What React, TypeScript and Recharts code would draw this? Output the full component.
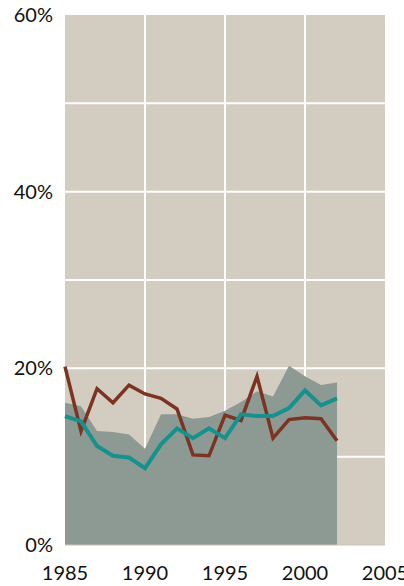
import { ComposedChart, Area, Line, XAxis, YAxis, CartesianGrid } from 'recharts';

// years on the x axis
const years = [1985, 1986, 1987, 1988, 1989, 1990, 1991, 1992, 1993, 1994, 1995, 1996, 1997, 1998, 1999, 2000, 2001, 2002];
// grey band (%)
const bandValues = [16.1, 15.7, 12.9, 12.8, 12.5, 10.9, 14.8, 14.8, 14.3, 14.5, 15.2, 16.2, 17.4, 16.8, 20.3, 19.1, 18.1, 18.4];
// brown line (%)
const brownValues = [20.2, 12.9, 17.7, 16.1, 18.1, 17.1, 16.6, 15.4, 10.2, 10.1, 14.7, 14.1, 19.1, 12.1, 14.2, 14.4, 14.3, 11.8];
// teal line (%)
const tealValues = [14.6, 14.0, 11.2, 10.1, 9.9, 8.7, 11.4, 13.2, 12.1, 13.2, 12.1, 14.8, 14.6, 14.6, 15.5, 17.5, 15.8, 16.6];

const xTicks = [1985, 1990, 1995, 2000, 2005];
const yTicks = [0, 20, 40, 60];
const hGrid = [10, 20, 30, 40, 50];
const vGrid = [1990, 1995, 2000];

const data = years.map((year, i) => ({
    year,
    band: bandValues[i],
    brown: brownValues[i],
    teal: tealValues[i],
}));

const tickStyle = { fill: '#111', fontSize: 20, fontFamily: 'Lato, sans-serif' };

export default function App() {
    return (
        <div style={{ position: 'absolute', left: 0, top: 0, width: 404, height: 586, background: '#fff' }}>
            <ComposedChart width={404} height={586} data={data} margin={{ top: 15, right: 19, bottom: 0, left: 0 }}>
                <CartesianGrid
                    fill="#d3ccc1"
                    stroke="#ffffff"
                    strokeWidth={2}
                    horizontalValues={hGrid}
                    verticalValues={vGrid}
                />
                <XAxis
                    dataKey="year"
                    type="number"
                    domain={[1985, 2005]}
                    ticks={xTicks}
                    height={41}
                    tickSize={0}
                    tickMargin={21}
                    axisLine={{ stroke: '#c9c3b7', strokeWidth: 1 }}
                    tickLine={false}
                    tick={tickStyle}
                    interval={0}
                />
                <YAxis
                    type="number"
                    domain={[0, 60]}
                    ticks={yTicks}
                    width={65}
                    tickSize={0}
                    tickMargin={12}
                    axisLine={false}
                    tickLine={false}
                    tick={tickStyle}
                    tickFormatter={(v) => `${v}%`}
                />
                <Area
                    dataKey="band"
                    type="linear"
                    fill="#8d9a94"
                    fillOpacity={1}
                    stroke="none"
                    isAnimationActive={false}
                />
                <Line
                    dataKey="brown"
                    type="linear"
                    stroke="#7d3321"
                    strokeWidth={3.5}
                    dot={false}
                    isAnimationActive={false}
                />
                <Line
                    dataKey="teal"
                    type="linear"
                    stroke="#16918e"
                    strokeWidth={4}
                    dot={false}
                    isAnimationActive={false}
                />
            </ComposedChart>
        </div>
    );
}
